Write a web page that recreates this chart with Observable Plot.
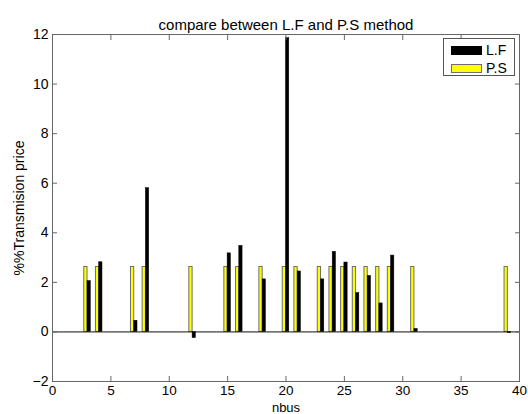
<!DOCTYPE html>
<html><head><meta charset="utf-8">
<script src="https://cdn.jsdelivr.net/npm/d3@7"></script>
<script src="https://cdn.jsdelivr.net/npm/@observablehq/plot@0.6"></script>
<style>
body{margin:0;background:#fff;font-family:"Liberation Sans",Arial,sans-serif;}
#wrap{position:relative;width:528px;height:414px;}
#legend{position:absolute;left:443px;top:38px;width:72px;height:38px;border:1px solid #555;background:#fff;box-sizing:border-box;font-size:14px;color:#000;}
.lrow{position:absolute;left:7px;height:14px;display:flex;align-items:center;}
.sw{width:31px;height:9px;box-sizing:border-box;margin-right:4px;}
</style></head><body><div id="wrap"></div>
<script>
const title = "compare between L.F and P.S method";
const xLabel = "nbus";
const yLabel = "%%Transmision price";
const buses    = [3, 4, 7, 8, 12, 15, 16, 18, 20, 21, 23, 24, 25, 26, 27, 28, 29, 31, 39];
const lfValues = [2.05, 2.81, 0.45, 5.8, -0.25, 3.17, 3.47, 2.12, 11.85, 2.44, 2.12, 3.23, 2.8, 1.57, 2.26, 1.15, 3.08, 0.12, -0.05];
const psValues = [2.62, 2.62, 2.62, 2.62, 2.62, 2.62, 2.62, 2.62, 2.62, 2.62, 2.62, 2.62, 2.62, 2.62, 2.62, 2.62, 2.62, 2.62, 2.62];
const seriesNames = ["L.F", "P.S"];
const seriesFill = ["#000000", "#ffff00"];
const seriesEdge = ["#000000", "#6e6e6e"];
const xTicks = [0, 5, 10, 15, 20, 25, 30, 35, 40];
const yTicks = [-2, 0, 2, 4, 6, 8, 10, 12];

const lfRows = buses.map((b, i) => ({bus: b, value: lfValues[i]}));
const psRows = buses.map((b, i) => ({bus: b, value: psValues[i]}));
const barW = 0.28;

const axisColor = "#666";
const chart = Plot.plot({
  width: 528, height: 414,
  marginLeft: 52, marginRight: 9, marginTop: 34, marginBottom: 33,
  style: {fontFamily: "'Liberation Sans', Arial, sans-serif", fontSize: "14px", color: "#000", background: "#fff"},
  x: {domain: [0, 40]},
  y: {domain: [-2, 12]},
  marks: [
    Plot.rect(psRows, {x1: d => d.bus - barW, x2: d => d.bus, y1: d => 0, y2: "value", fill: seriesFill[1], stroke: seriesEdge[1], strokeWidth: 1}),
    Plot.rect(lfRows, {x1: d => d.bus, x2: d => d.bus + barW, y1: d => 0, y2: "value", fill: seriesFill[0], stroke: seriesEdge[0], strokeWidth: 0.5}),
    Plot.ruleY([0], {stroke: "#111", strokeWidth: 1}),
    Plot.frame({stroke: axisColor}),
    Plot.axisX({anchor: "bottom", ticks: xTicks, tickSize: 0, tickPadding: 4, fontSize: 13.5, label: null}),
    Plot.axisY({anchor: "left", ticks: yTicks, tickSize: 0, tickPadding: 4, fontSize: 14, label: yLabel, labelAnchor: "center", labelArrow: "none", labelOffset: 38}),
    Plot.axisX({anchor: "bottom", ticks: xTicks, tickSize: -5, text: null, label: null, stroke: axisColor}),
    Plot.axisX({anchor: "top", ticks: xTicks, tickSize: -5, text: null, label: null, stroke: axisColor}),
    Plot.axisY({anchor: "left", ticks: yTicks, tickSize: -5, text: null, label: null, stroke: axisColor}),
    Plot.axisY({anchor: "right", ticks: yTicks, tickSize: -5, text: null, label: null, stroke: axisColor}),
    Plot.text([xLabel], {text: d => d, frameAnchor: "bottom", dy: 30, lineAnchor: "bottom", fontSize: 13, fill: "#000"}),
    Plot.text([title], {text: d => d, frameAnchor: "top", dy: -15, fontSize: 15, fill: "#000"})
  ]
});
const wrap = document.getElementById("wrap");
wrap.appendChild(chart);
const legend = document.createElement("div");
legend.id = "legend";
seriesNames.forEach((name, i) => {
  const row = document.createElement("div");
  row.className = "lrow";
  row.style.top = (4 + i * 18) + "px";
  const sw = document.createElement("div");
  sw.className = "sw";
  sw.style.background = seriesFill[i];
  sw.style.border = "1px solid " + seriesEdge[i];
  const lab = document.createElement("span");
  lab.textContent = name;
  row.appendChild(sw); row.appendChild(lab);
  legend.appendChild(row);
});
wrap.appendChild(legend);
</script>
</body></html>
